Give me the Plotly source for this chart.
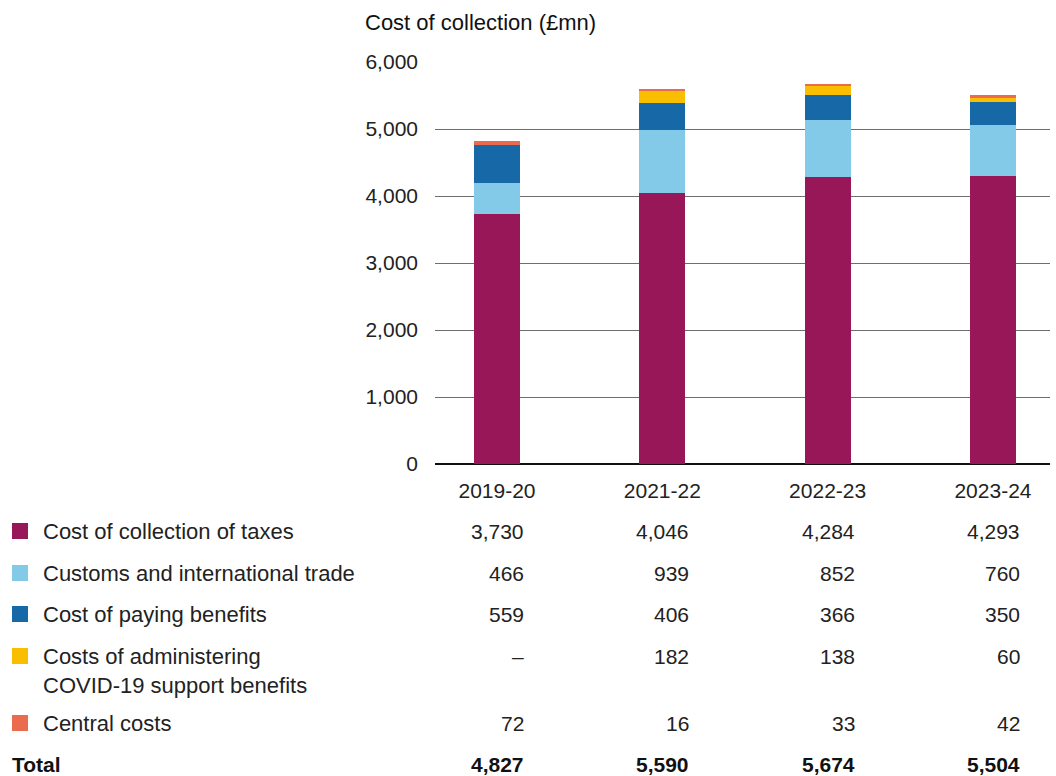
import plotly.graph_objects as go

years = ["2019-20", "2021-22", "2022-23", "2023-24"]
series_names = [
    "Cost of collection of taxes",
    "Customs and international trade",
    "Cost of paying benefits",
    "Costs of administering<br>COVID-19 support benefits",
    "Central costs",
]
taxes = [3730, 4046, 4284, 4293]
customs = [466, 939, 852, 760]
benefits = [559, 406, 366, 350]
covid = [None, 182, 138, 60]
central = [72, 16, 33, 42]
totals = [4827, 5590, 5674, 5504]
colors = ["#971758", "#83C9E8", "#1768A7", "#F9BE00", "#EB6B4F"]
y_ticks = [0, 1000, 2000, 3000, 4000, 5000, 6000]

series = [taxes, customs, benefits, covid, central]

FONT = "Liberation Sans"
TXT = "#222222"
FS = 21
FL = 22

fig = go.Figure()
xs = list(range(len(years)))
for name, vals, col in zip(series_names, series, colors):
    fig.add_trace(go.Bar(
        x=xs, y=[v if v is not None else 0 for v in vals], name=name,
        marker=dict(color=col, line=dict(width=0)), width=0.278,
        hoverinfo="skip",
    ))

plot_top, plot_bot = 62, 464
H = plot_bot - plot_top
def py(p):
    return (plot_bot - p) / H
def px(p):
    return (p - 435) / 615

row_px = [531, 573, 614, 656, 723]
shapes = []
annotations = []
for i, (name, vals, col, rp) in enumerate(zip(series_names, series, colors, row_px)):
    shapes.append(dict(type="rect", xref="paper", yref="paper",
                       x0=px(12), x1=px(28),
                       y0=py(rp + 8), y1=py(rp - 8),
                       fillcolor=col, line=dict(width=0), layer="above"))
    annotations.append(dict(xref="paper", yref="paper",
                            x=px(41), y=py(rp - 14),
                            xanchor="left", yanchor="top", align="left",
                            text=name, showarrow=False,
                            font=dict(family=FONT, size=FL, color=TXT)))
    for j, v in enumerate(vals):
        annotations.append(dict(xref="x", yref="paper", x=j + 0.175, y=py(rp),
                                xanchor="right", yanchor="middle",
                                text=("–" if v is None else f"{v:,}"), showarrow=False,
                                font=dict(family=FONT, size=FS, color=TXT)))

annotations.append(dict(xref="paper", yref="paper", x=px(10), y=py(764),
                        xanchor="left", yanchor="middle", text="<b>Total</b>", showarrow=False,
                        font=dict(family=FONT, size=FS, color="#111111")))
for j, v in enumerate(totals):
    annotations.append(dict(xref="x", yref="paper", x=j + 0.175, y=py(764),
                            xanchor="right", yanchor="middle", text=f"<b>{v:,}</b>", showarrow=False,
                            font=dict(family=FONT, size=FS, color="#111111")))

annotations.append(dict(xref="paper", yref="paper", x=px(363), y=py(22),
                        xanchor="left", yanchor="middle", text="Cost of collection (£mn)",
                        showarrow=False, font=dict(family=FONT, size=FL, color="#111111")))

fig.update_layout(
    barmode="stack",
    width=1056, height=776,
    margin=dict(l=435, r=6, t=62, b=312),
    paper_bgcolor="white", plot_bgcolor="white",
    showlegend=False,
    font=dict(family=FONT, size=FS, color=TXT),
    xaxis=dict(range=[-0.375, 3.345], tickvals=xs, ticktext=years,
               showgrid=False, zeroline=False, showline=False,
               ticks="", ticklabelstandoff=12,
               tickfont=dict(family=FONT, size=FS, color=TXT), fixedrange=True),
    yaxis=dict(range=[0, 6000], tickvals=y_ticks,
               ticktext=[f"{t:,}" for t in y_ticks],
               showgrid=True, gridcolor="#6e6e6e", gridwidth=1,
               zeroline=True, zerolinecolor="#111111", zerolinewidth=1.5,
               showline=False, ticks="", ticklabelstandoff=16,
               tickfont=dict(family=FONT, size=FS, color=TXT), fixedrange=True),
    shapes=shapes,
    annotations=annotations,
)

fig.write_html("out.html")
